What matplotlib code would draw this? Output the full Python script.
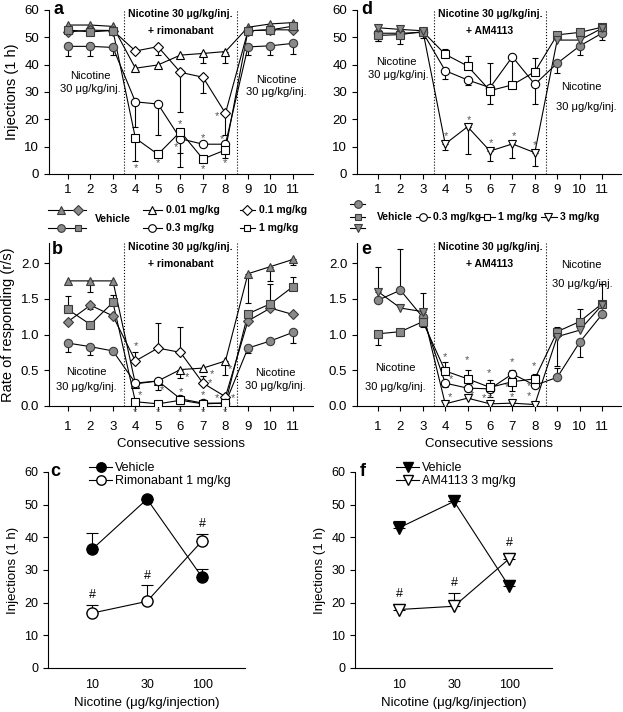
import matplotlib
matplotlib.use('Agg')
import matplotlib.pyplot as plt
from matplotlib.lines import Line2D
import numpy as np

plt.rcParams['font.family'] = ['Liberation Sans', 'DejaVu Sans']
plt.rcParams['font.size'] = 9

W, H = 623, 712
GREY = '#8a8a8a'

sessions = np.arange(1, 12)
baseline_idx = [0, 1, 2, 8, 9, 10]
drug_idx = [3, 4, 5, 6, 7]

# --- panel a: rimonabant, injections (signed error: + up, - down)
tri_a = [54.5, 54.5, 54.0, 38.7, 39.9, 43.5, 44.1, 44.8, 53.7, 54.9, 55.4]
tri_a_err = [0, 0, 0, 0, 0, 0, -3.5, -4.2, 0, 0, 0]
dia_a = [52.0, 52.6, 52.5, 45.0, 46.6, 37.2, 35.4, 22.2, 52.4, 52.8, 52.7]
dia_a_err = [0, 0, 0, 0, -3.0, -14.6, -5.6, -8.0, 0, 0, 0]
cir_a = [46.7, 46.7, 46.3, 26.4, 25.6, 12.9, 10.9, 10.9, 46.5, 46.9, 47.8]
cir_a_err = [-3.4, -3.4, -2.8, -9.1, -11.3, -10.2, 0, 0, -3.0, -3.5, -3.8]
sq_a = [52.7, 52.0, 52.5, 13.1, 7.2, 15.5, 5.5, 8.8, 52.4, 52.7, 54.1]
sq_a_err = [0, 0, 0, -8.2, 0, -7.7, 0, -3.1, 0, 0, 0]
star_a_x = [4.02, 5.0, 6.0, 5.81, 7.0, 7.0, 7.64, 7.83, 8.0]
star_a_y = [2.1, 3.9, 18.2, 10.0, 13.3, 1.8, 21.2, 12.8, 3.9]

# --- panel d: AM4113, injections
cir_d = [51.5, 51.5, 51.8, 37.8, 34.4, 31.6, 42.9, 32.8, 40.5, 46.8, 51.5]
cir_d_err = [-3.0, 0, -2.0, -3.0, -2.0, 9.0, 0, -7.3, -3.7, -3.3, -2.5]
sq_d = [50.7, 51.0, 52.1, 43.8, 39.5, 30.5, 32.6, 37.4, 50.9, 51.8, 53.7]
sq_d_err = [-2.0, -3.5, 0, 2.0, 3.5, -5.0, 10.0, 5.0, 0, 0, 0]
tri_d = [53.5, 52.9, 52.4, 11.0, 17.3, 8.4, 11.0, 7.8, 49.0, 49.0, 53.3]
tri_d_err = [0, 0, 0, -2.3, -10.0, -3.5, -5.3, -5.0, 0, 0, 0]
star_d_x = [4.05, 5.05, 6.05, 7.05, 8.0]
star_d_y = [13.8, 19.8, 11.2, 13.7, 10.6]

# --- panel b: rimonabant, rate of responding
tri_b = [1.75, 1.75, 1.75, 0.31, 0.35, 0.51, 0.53, 0.63, 1.85, 1.95, 2.05]
tri_b_err = [0, -0.15, 0, 0, 0, -0.12, 0, -0.19, -0.41, -0.2, -0.08]
dia_b = [1.18, 1.41, 1.26, 0.63, 0.81, 0.75, 0.32, 0.13, 1.19, 1.37, 1.28]
dia_b_err = [0, -0.05, 0, 0.13, 0.35, 0.36, 0.1, 0, 0, 0, 0]
sq_b = [1.35, 1.14, 1.45, 0.06, 0.03, 0.08, 0.03, 0.04, 1.29, 1.43, 1.67]
sq_b_err = [0.19, 0, 0.1, 0, 0, 0, 0, 0, 0, 0.28, 0.13]
cir_b = [0.88, 0.83, 0.77, 0.32, 0.35, 0.10, 0.04, 0.04, 0.81, 0.91, 1.03]
cir_b_err = [-0.13, -0.11, 0, 0, -0.13, -0.07, 0, 0, -0.07, 0, -0.15]
star_b_x = [4.02, 4.2, 5.16, 6.02, 6.27, 6.99, 7.31, 7.38, 7.64, 8.2, 8.35,
            4.0, 5.0, 6.0, 7.0, 8.0]
star_b_y = [0.84, 0.15, 0.22, 0.2, 0.41, 0.15, 0.32, 0.45, 0.11, 0.51, 0.11,
            -0.09, -0.09, -0.09, -0.09, -0.09]

# --- panel e: AM4113, rate of responding
cir_e = [1.48, 1.62, 1.24, 0.32, 0.25, 0.24, 0.45, 0.29, 0.40, 0.89, 1.28]
cir_e_err = [0, 0.58, 0, -0.05, 0, -0.12, 0.06, 0, 0.13, -0.2, 0]
sq_e = [1.01, 1.04, 1.18, 0.49, 0.38, 0.26, 0.34, 0.38, 1.04, 1.18, 1.43]
sq_e_err = [-0.15, -0.06, -0.08, 0.12, 0.12, 0.11, -0.13, 0.07, 0.06, 0.17, 0]
tri_e = [1.60, 1.37, 1.32, 0.03, 0.11, 0.03, 0.04, 0.02, 0.97, 1.06, 1.41]
tri_e_err = [0.35, 0, 0.26, 0, 0.05, 0, 0, 0, -0.41, 0, 0.29]
star_e_x = [3.97, 4.25, 4.2, 4.97, 5.2, 5.2, 5.97, 5.75, 6.0, 6.97, 6.77, 7.0,
            7.97, 7.73, 7.73]
star_e_y = [0.68, 0.37, 0.13, 0.64, 0.29, 0.15, 0.46, 0.11, 0.11, 0.62, 0.27,
            0.13, 0.56, 0.28, 0.14]

# --- panels c, f: dose-response
doses = ['10', '30', '100']
veh_c = [36.3, 51.7, 27.8]
veh_c_err = [5.0, 0, 2.6]
rim_c = [16.8, 20.4, 38.9]
rim_c_err = [2.4, 4.9, 2.2]
veh_f = [42.9, 51.0, 25.0]
veh_f_err = [2.0, 0, 2.0]
am_f = [17.9, 18.9, 33.4]
am_f_err = [1.8, 4.0, 1.8]


def box(l, t, r, b):
    return [l / W, 1 - b / H, (r - l) / W, (b - t) / H]


def style_axes(ax):
    for s in ['top', 'right']:
        ax.spines[s].set_visible(False)
    for s in ['left', 'bottom']:
        ax.spines[s].set_linewidth(0.8)
    ax.tick_params(direction='out', length=3.5, width=0.8, labelsize=9.5)


def draw_group(ax, y, err, marker, ms=6):
    y = np.array(y, dtype=float)
    err = np.array(err, dtype=float)
    m = err != 0
    lo = np.where(err < 0, -err, 0)[m]
    hi = np.where(err > 0, err, 0)[m]
    ax.errorbar(sessions[m], y[m], yerr=[lo, hi], fmt='none', ecolor='k',
                elinewidth=0.8, capsize=2.5, capthick=0.8, zorder=2)
    ax.plot(sessions, y, color='k', lw=0.8, zorder=3)
    ax.plot(sessions[baseline_idx], y[baseline_idx], ls='none', marker=marker,
            ms=ms, mfc=GREY, mec='#3a3a3a', mew=0.8, zorder=4)
    ax.plot(sessions[drug_idx], y[drug_idx], ls='none', marker=marker,
            ms=ms, mfc='white', mec='k', mew=0.8, zorder=4)


def session_axes(ax, ylim, yticks, fmt):
    style_axes(ax)
    ax.set_ylim(*ylim)
    ax.set_yticks(yticks)
    ax.set_yticklabels([fmt.format(v) for v in yticks])
    ax.set_xticks(sessions)
    for xv in (3.5, 8.5):
        ax.axvline(xv, color='k', ls=':', lw=0.8, zorder=1)


def stars(ax, xs, ys):
    for xv, yv in zip(xs, ys):
        ax.text(xv, yv, '*', ha='center', va='center', fontsize=8,
                color='#555555', clip_on=False)


fig = plt.figure(figsize=(W / 100, H / 100), dpi=100)

ax_a = fig.add_axes(box(49, 10, 313, 174))
ax_d = fig.add_axes(box(357, 10, 621, 174))
ax_b = fig.add_axes(box(49, 243, 313, 406))
ax_e = fig.add_axes(box(357, 243, 621, 406))
ax_c = fig.add_axes(box(48, 472, 245, 668))
ax_f = fig.add_axes(box(355, 472, 552, 668))

# panel a
session_axes(ax_a, (0, 60), [0, 10, 20, 30, 40, 50, 60], '{:.0f}')
ax_a.set_xlim(0.16, 11.89)
draw_group(ax_a, tri_a, tri_a_err, '^')
draw_group(ax_a, dia_a, dia_a_err, 'D', ms=5)
draw_group(ax_a, cir_a, cir_a_err, 'o')
draw_group(ax_a, sq_a, sq_a_err, 's', ms=5.5)
stars(ax_a, star_a_x, star_a_y)
ax_a.set_ylabel('Injections (1 h)', fontsize=10.5)

# panel d
session_axes(ax_d, (0, 60), [0, 10, 20, 30, 40, 50, 60], '{:.0f}')
ax_d.set_xlim(0.06, 11.85)
draw_group(ax_d, cir_d, cir_d_err, 'o')
draw_group(ax_d, sq_d, sq_d_err, 's', ms=5.5)
draw_group(ax_d, tri_d, tri_d_err, 'v')
stars(ax_d, star_d_x, star_d_y)

# panel b
session_axes(ax_b, (0, 2.28), [0, 0.5, 1.0, 1.5, 2.0], '{:.1f}')
ax_b.set_xlim(0.16, 11.89)
draw_group(ax_b, tri_b, tri_b_err, '^')
draw_group(ax_b, dia_b, dia_b_err, 'D', ms=5)
draw_group(ax_b, cir_b, cir_b_err, 'o')
draw_group(ax_b, sq_b, sq_b_err, 's', ms=5.5)
stars(ax_b, star_b_x, star_b_y)
ax_b.set_ylabel('Rate of responding (r/s)', fontsize=10.5)

# panel e
session_axes(ax_e, (0, 2.28), [0, 0.5, 1.0, 1.5, 2.0], '{:.1f}')
ax_e.set_xlim(0.06, 11.85)
draw_group(ax_e, cir_e, cir_e_err, 'o')
draw_group(ax_e, sq_e, sq_e_err, 's', ms=5.5)
draw_group(ax_e, tri_e, tri_e_err, 'v')
stars(ax_e, star_e_x, star_e_y)

for ax in (ax_b, ax_e):
    ax.tick_params(axis='x', pad=7)
    ax.set_xlabel('Consecutive sessions', fontsize=9.5, labelpad=4)

# in-panel labels
ann = dict(ha='center', va='center', fontsize=8)
bold = dict(ha='center', va='center', fontsize=7.5, fontweight='bold')
for ax, drug, top in [(ax_a, '+ rimonabant', 60), (ax_d, '+ AM4113', 60),
                      (ax_b, '+ rimonabant', 2.28), (ax_e, '+ AM4113', 2.28)]:
    ax.text(6, top * 0.975, 'Nicotine 30 \u03bcg/kg/inj.', **bold)
    ax.text(6, top * 0.87, drug, **bold)

ax_a.text(1.98, 35.9, 'Nicotine', **ann)
ax_a.text(1.98, 31.0, '30 \u03bcg/kg/inj.', **ann)
ax_a.text(10.25, 34.4, 'Nicotine', **ann)
ax_a.text(10.25, 30.1, '30 \u03bcg/kg/inj.', **ann)
ax_d.text(1.8, 40.9, 'Nicotine', **ann)
ax_d.text(1.9, 36.2, '30 \u03bcg/kg/inj.', **ann)
ax_d.text(10.1, 31.7, 'Nicotine', **ann)
ax_d.text(10.3, 24.6, '30 \u03bcg/kg/inj.', **ann)
ax_b.text(1.83, 0.47, 'Nicotine', **ann)
ax_b.text(1.83, 0.27, '30 \u03bcg/kg/inj.', **ann)
ax_b.text(10.2, 0.46, 'Nicotine', **ann)
ax_b.text(10.2, 0.28, '30 \u03bcg/kg/inj.', **ann)
ax_e.text(10.1, 1.97, 'Nicotine', **ann)
ax_e.text(10.1, 1.70, '30 \u03bcg/kg/inj.', **ann)
ax_e.text(1.76, 0.53, 'Nicotine', **ann)
ax_e.text(1.76, 0.26, '30 \u03bcg/kg/inj.', **ann)

# panels c and f
xpos = np.arange(1, 4)
for ax, veh, veh_err, drug, drug_err, mk, lab in [
        (ax_c, veh_c, veh_c_err, rim_c, rim_c_err, 'o', 'Rimonabant 1 mg/kg'),
        (ax_f, veh_f, veh_f_err, am_f, am_f_err, 'v', 'AM4113 3 mg/kg')]:
    style_axes(ax)
    ax.tick_params(labelsize=9)
    ax.set_xlim(0.2, 3.78)
    ax.set_ylim(0, 60)
    ax.set_yticks([0, 10, 20, 30, 40, 50, 60])
    ax.set_xticks(xpos)
    ax.set_xticklabels(doses)
    ax.tick_params(axis='x', length=0, pad=8)
    ax.set_ylabel('Injections (1 h)', fontsize=9.5)
    ax.set_xlabel('Nicotine (\u03bcg/kg/injection)', fontsize=9.5, labelpad=4)
    ms = 8 if mk == 'o' else 8.5
    ax.errorbar(xpos, veh, yerr=[np.zeros(3), veh_err], fmt='none', ecolor='k',
                elinewidth=0.8, capsize=4, capthick=0.8, zorder=2)
    ax.errorbar(xpos, drug, yerr=[np.zeros(3), drug_err], fmt='none', ecolor='k',
                elinewidth=0.8, capsize=4, capthick=0.8, zorder=2)
    h1, = ax.plot(xpos, veh, color='k', lw=0.8, marker=mk, ms=ms, mfc='k',
                  mec='k', zorder=3)
    h2, = ax.plot(xpos, drug, color='k', lw=0.8, marker=mk, ms=ms, mfc='white',
                  mec='k', zorder=3)
    for xv, yv, ev in zip(xpos, drug, drug_err):
        ax.text(xv, yv + ev + 3.0, '#', ha='center', va='center', fontsize=9)
    ax.legend([h1, h2], ['Vehicle', lab], loc='upper left', frameon=False,
              bbox_to_anchor=(0.21, 1.05), borderpad=0, borderaxespad=0,
              handlelength=1.8, handletextpad=0.25, labelspacing=0.1,
              fontsize=9, markerscale=0.85)

# panel letters
for lab, x, y in [('a', 58, 9), ('d', 367, 9), ('b', 57, 250), ('e', 366, 250),
                  ('c', 55, 472), ('f', 363, 472)]:
    fig.text(x / W, 1 - y / H, lab, fontsize=13, fontweight='bold',
             ha='center', va='center')


# hand-made legends between the session panels
def key(x0, x1, y, marks, face):
    fig.add_artist(Line2D([x0 / W, x1 / W], [1 - y / H, 1 - y / H],
                          transform=fig.transFigure, color='k', lw=0.8))
    for mx, mk in marks:
        fig.add_artist(Line2D([mx / W], [1 - y / H], transform=fig.transFigure,
                              ls='none', marker=mk, ms=5 if mk in 'Ds' else 5.5,
                              mfc=face, mec='#3a3a3a' if face == GREY else 'k',
                              mew=0.8))


def key_text(x, y, s, ha='left'):
    fig.text(x / W, 1 - y / H, s, fontsize=7.5, fontweight='bold',
             ha=ha, va='center')


key(48, 86, 210, [(61, '^'), (78, 'D')], GREY)
key(48, 86, 228, [(61, 'o'), (78, 's')], GREY)
key_text(113, 219, 'Vehicle', ha='center')
key(143, 162, 210, [(152, '^')], 'white')
key_text(166, 210, '0.01 mg/kg')
key(143, 162, 228, [(152, 'o')], 'white')
key_text(166, 228, '0.3 mg/kg')
key(240, 255, 210, [(247, 'D')], 'white')
key_text(259, 210, '0.1 mg/kg')
key(240, 255, 228, [(247, 's')], 'white')
key_text(259, 228, '1 mg/kg')

key(350, 365, 204, [(358, 'o')], GREY)
key(350, 365, 217, [(358, 's')], GREY)
key(350, 365, 228, [(358, 'v')], GREY)
key_text(377, 217, 'Vehicle')
key(416, 430, 217, [(423, 'o')], 'white')
key_text(433, 217, '0.3 mg/kg')
key(480, 495, 217, [(487, 's')], 'white')
key_text(498, 217, '1 mg/kg')
key(541, 557, 217, [(548, 'v')], 'white')
key_text(560, 217, '3 mg/kg')

fig.savefig('out.png', dpi=100)
